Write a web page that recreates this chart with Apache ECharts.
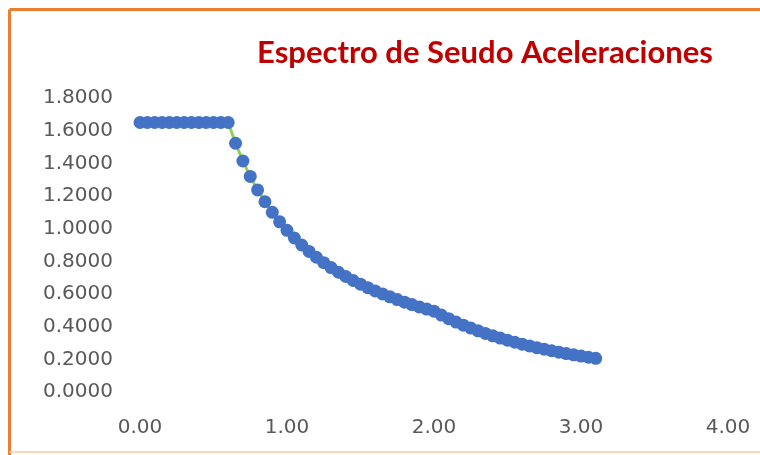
<!DOCTYPE html>
<html>
<head>
<meta charset="utf-8">
<script src="https://cdn.jsdelivr.net/npm/echarts@6/dist/echarts.min.js"></script>
<style>
  html, body { margin: 0; padding: 0; background: #ffffff; }
  #chart { width: 760px; height: 455px; }
</style>
</head>
<body>
<div id="chart"></div>
<script>
// Periodo T (s)
const periods = [
  0.00, 0.05, 0.10, 0.15, 0.20, 0.25, 0.30, 0.35, 0.40, 0.45, 0.50, 0.55, 0.60,
  0.65, 0.70, 0.75, 0.80, 0.85, 0.90, 0.95, 1.00, 1.05, 1.10, 1.15, 1.20,
  1.25, 1.30, 1.35, 1.40, 1.45, 1.50, 1.55, 1.60, 1.65, 1.70, 1.75, 1.80,
  1.85, 1.90, 1.95, 2.00, 2.05, 2.10, 2.15, 2.20, 2.25, 2.30, 2.35, 2.40,
  2.45, 2.50, 2.55, 2.60, 2.65, 2.70, 2.75, 2.80, 2.85, 2.90, 2.95, 3.00,
  3.05, 3.10
];
// Seudo aceleración Sa
const accel = [
  1.6500, 1.6500, 1.6500, 1.6500, 1.6500, 1.6500, 1.6500, 1.6500, 1.6500, 1.6500, 1.6500, 1.6500, 1.6500,
  1.5231, 1.4143, 1.3200, 1.2375, 1.1647, 1.1000, 1.0421, 0.9900, 0.9429, 0.9000, 0.8609, 0.8250,
  0.7920, 0.7615, 0.7333, 0.7071, 0.6828, 0.6600, 0.6387, 0.6188, 0.6000, 0.5824, 0.5657, 0.5500,
  0.5351, 0.5211, 0.5077, 0.4950, 0.4712, 0.4490, 0.4283, 0.4091, 0.3911, 0.3743, 0.3585, 0.3438,
  0.3299, 0.3168, 0.3045, 0.2929, 0.2820, 0.2716, 0.2618, 0.2526, 0.2438, 0.2354, 0.2275, 0.2200,
  0.2128, 0.2060
];
const titleText = 'Espectro de Seudo Aceleraciones';

const chart = echarts.init(document.getElementById('chart'), null, { renderer: 'canvas' });
const titleFont = 'Lato, "Liberation Sans", sans-serif';
const labelFont = '"DejaVu Sans", sans-serif';

chart.setOption({
  animation: false,
  backgroundColor: '#ffffff',
  title: {
    text: titleText,
    left: 480,
    textAlign: 'center',
    top: 32,
    textStyle: {
      color: '#C00000',
      fontSize: 31,
      fontWeight: 'bold',
      fontFamily: titleFont
    }
  },
  graphic: [
    { type: 'line', shape: { x1: 9.5, y1: 9.5, x2: 760, y2: 9.5 },
      style: { stroke: '#ED7D31', lineWidth: 3 } },
    { type: 'line', shape: { x1: 9.5, y1: 9.5, x2: 9.5, y2: 455 },
      style: { stroke: '#ED7D31', lineWidth: 3 } },
    { type: 'line', shape: { x1: 9.5, y1: 452, x2: 760, y2: 452 },
      style: { stroke: '#FAD7C0', lineWidth: 2 } }
  ],
  grid: { left: 140, right: 32, top: 98, bottom: 63 },
  xAxis: {
    type: 'value',
    min: 0, max: 4, interval: 1,
    axisLine: { show: false },
    axisTick: { show: false },
    splitLine: { show: false },
    axisLabel: {
      color: '#595959', fontSize: 20, fontFamily: labelFont, margin: 26,
      formatter: v => v.toFixed(2)
    }
  },
  yAxis: {
    type: 'value',
    min: 0, max: 1.8, interval: 0.2,
    axisLine: { show: false },
    axisTick: { show: false },
    splitLine: { show: false },
    axisLabel: {
      color: '#595959', fontSize: 20, fontFamily: labelFont, margin: 27,
      formatter: v => v.toFixed(4)
    }
  },
  series: [{
    type: 'line',
    data: periods.map((t, i) => [t, accel[i]]),
    symbol: 'circle',
    symbolSize: 13,
    itemStyle: { color: '#4472C4' },
    lineStyle: { color: '#92D050', width: 3 },
    z: 2
  }]
});
</script>
</body>
</html>
